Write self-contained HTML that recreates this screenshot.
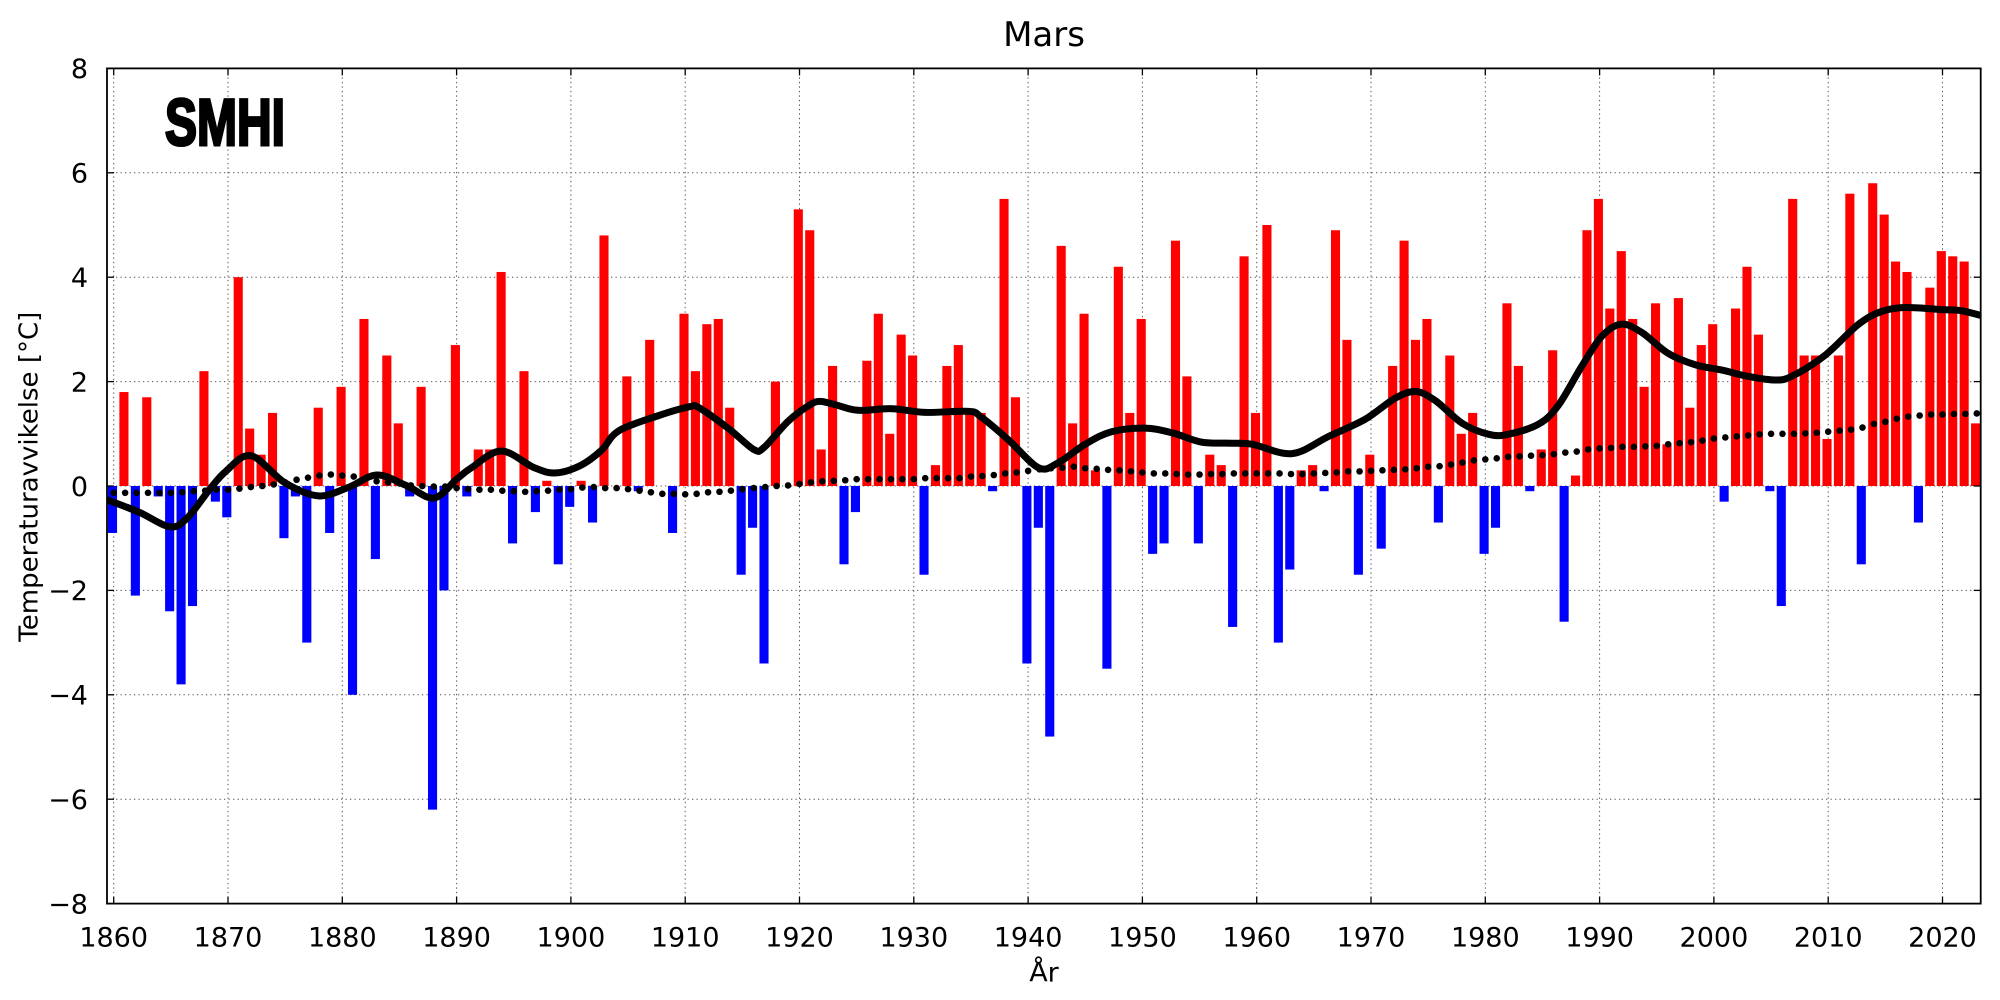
<!DOCTYPE html>
<html><head><meta charset="utf-8"><style>
html,body{margin:0;padding:0;background:#fff;}
svg{display:block;}
text{font-family:"DejaVu Sans","Liberation Sans",sans-serif;fill:#000;}
</style></head><body>
<svg id="s" xmlns="http://www.w3.org/2000/svg" width="2000" height="1000" viewBox="0 0 2000 1000">
<rect width="2000" height="1000" fill="#fff"/>
<defs><clipPath id="cp"><rect x="107" y="68.4" width="1873.7" height="835.2"/></clipPath></defs>
<g id="grid"></g>
<g id="bars" clip-path="url(#cp)"></g>
<g id="lines" clip-path="url(#cp)"></g>
<g id="ticks"></g>
<rect x="107" y="68.4" width="1873.7" height="835.2" fill="none" stroke="#000" stroke-width="1.8"/>
<text x="165" y="145" font-family="Liberation Sans" font-weight="bold" font-size="66" textLength="120" lengthAdjust="spacingAndGlyphs" stroke="#000" stroke-width="3" style="font-family:'Liberation Sans',sans-serif">SMHI</text>
<text x="1044" y="46" font-size="34" text-anchor="middle">Mars</text>
<g font-size="27" text-anchor="end">
<text x="88" y="78.2">8</text>
<text x="88" y="182.6">6</text>
<text x="88" y="287">4</text>
<text x="88" y="391.4">2</text>
<text x="88" y="495.8">0</text>
<text x="88" y="600.2">−2</text>
<text x="88" y="704.6">−4</text>
<text x="88" y="809">−6</text>
<text x="88" y="913.4">−8</text>
</g>
<g font-size="27" text-anchor="middle">
<text x="113.7" y="946.5">1860</text>
<text x="228" y="946.5">1870</text>
<text x="342.3" y="946.5">1880</text>
<text x="456.6" y="946.5">1890</text>
<text x="570.9" y="946.5">1900</text>
<text x="685.2" y="946.5">1910</text>
<text x="799.5" y="946.5">1920</text>
<text x="913.8" y="946.5">1930</text>
<text x="1028.1" y="946.5">1940</text>
<text x="1142.4" y="946.5">1950</text>
<text x="1256.7" y="946.5">1960</text>
<text x="1371" y="946.5">1970</text>
<text x="1485.3" y="946.5">1980</text>
<text x="1599.6" y="946.5">1990</text>
<text x="1713.9" y="946.5">2000</text>
<text x="1828.2" y="946.5">2010</text>
<text x="1942.5" y="946.5">2020</text>
</g>
<text x="1044" y="981.5" font-size="27" text-anchor="middle">År</text>
<text transform="translate(37.5,476.7) rotate(-90)" font-size="26" text-anchor="middle" textLength="330" lengthAdjust="spacingAndGlyphs">Temperaturavvikelse [°C]</text>
</svg>
<script>
(function(){
var NS="http://www.w3.org/2000/svg";
function X(y){return 113.7+(y-1860)*11.43;}
function Y(v){return 486-v*52.2;}
function el(tag,attrs,parent){var e=document.createElementNS(NS,tag);for(var k in attrs)e.setAttribute(k,attrs[k]);parent.appendChild(e);return e;}
var grid=document.getElementById('grid'),bars=document.getElementById('bars'),lines=document.getElementById('lines'),ticks=document.getElementById('ticks');
var L=107,R=1980.7,T=68.4,B=903.6;
for(var yr=1860;yr<=2020;yr+=10){var x=X(yr);
 el('line',{x1:x,y1:T,x2:x,y2:B,stroke:'#555','stroke-width':1,'stroke-dasharray':'1.3 3.2'},grid);
 el('line',{x1:x,y1:B,x2:x,y2:B-7,stroke:'#000','stroke-width':1.3},ticks);
 el('line',{x1:x,y1:T,x2:x,y2:T+7,stroke:'#000','stroke-width':1.3},ticks);
}
for(var v=-6;v<=6;v+=2){var y=Y(v);
 el('line',{x1:L,y1:y,x2:R,y2:y,stroke:'#555','stroke-width':1,'stroke-dasharray':'1.3 3.2'},grid);
 el('line',{x1:L,y1:y,x2:L+7,y2:y,stroke:'#000','stroke-width':1.3},ticks);
 el('line',{x1:R,y1:y,x2:R-7,y2:y,stroke:'#000','stroke-width':1.3},ticks);
}
var vals=[-0.9,1.8,-2.1,1.7,-0.2,-2.4,-3.8,-2.3,2.2,-0.3,
-0.6,4.0,1.1,0.6,1.4,-1.0,-0.2,-3.0,1.5,-0.9,
1.9,-4.0,3.2,-1.4,2.5,1.2,-0.2,1.9,-6.2,-2.0,
2.7,-0.2,0.7,0.7,4.1,-1.1,2.2,-0.5,0.1,-1.5,
-0.4,0.1,-0.7,4.8,0,2.1,-0.1,2.8,0,-0.9,
3.3,2.2,3.1,3.2,1.5,-1.7,-0.8,-3.4,2.0,0,
5.3,4.9,0.7,2.3,-1.5,-0.5,2.4,3.3,1.0,2.9,
2.5,-1.7,0.4,2.3,2.7,1.4,1.4,-0.1,5.5,1.7,
-3.4,-0.8,-4.8,4.6,1.2,3.3,0.3,-3.5,4.2,1.4,
3.2,-1.3,-1.1,4.7,2.1,-1.1,0.6,0.4,-2.7,4.4,
1.4,5.0,-3.0,-1.6,0.3,0.4,-0.1,4.9,2.8,-1.7,
0.6,-1.2,2.3,4.7,2.8,3.2,-0.7,2.5,1.0,1.4,
-1.3,-0.8,3.5,2.3,-0.1,0.7,2.6,-2.6,0.2,4.9,
5.5,3.4,4.5,3.2,1.9,3.5,0.8,3.6,1.5,2.7,
3.1,-0.3,3.4,4.2,2.9,-0.1,-2.3,5.5,2.5,2.5,
0.9,2.5,5.6,-1.5,5.8,5.2,4.3,4.1,-0.7,3.8,
4.5,4.4,4.3,1.2];
var bw=9.1;
for(var i=0;i<vals.length;i++){var v=vals[i];if(v===0)continue;var cx=X(1860+i)-1.2;
 var y0=Y(0),y1=Y(v);
 el('rect',{x:cx-bw/2,y:Math.min(y0,y1),width:bw,height:Math.abs(y1-y0),fill:v>0?'#ff0000':'#0000ff'},bars);
}
var tr=[-0.13,-0.13,-0.13,-0.13,-0.13,-0.13,-0.12,-0.10,-0.09,-0.07,
-0.07,-0.05,-0.02,0.0,0.03,0.07,0.12,0.16,0.20,0.22,
0.20,0.18,0.14,0.09,0.07,0.05,0.01,0.0,-0.01,-0.01,
-0.04,-0.06,-0.07,-0.07,-0.09,-0.10,-0.11,-0.10,-0.09,-0.07,
-0.06,-0.03,-0.02,-0.04,-0.04,-0.06,-0.09,-0.12,-0.15,-0.15,
-0.16,-0.15,-0.12,-0.11,-0.09,-0.06,-0.04,-0.02,0.0,0.01,
0.04,0.07,0.09,0.10,0.11,0.13,0.13,0.13,0.13,0.13,
0.13,0.15,0.15,0.15,0.15,0.18,0.19,0.21,0.24,0.26,
0.29,0.32,0.34,0.35,0.37,0.34,0.33,0.31,0.30,0.28,
0.26,0.24,0.24,0.23,0.22,0.22,0.23,0.23,0.24,0.24,
0.24,0.24,0.24,0.23,0.23,0.24,0.25,0.26,0.28,0.28,
0.29,0.30,0.31,0.32,0.34,0.37,0.38,0.41,0.45,0.49,
0.51,0.53,0.56,0.57,0.58,0.59,0.61,0.64,0.66,0.70,
0.72,0.73,0.75,0.75,0.76,0.77,0.80,0.82,0.84,0.87,
0.91,0.93,0.95,0.97,0.99,1.00,1.00,1.00,1.01,1.02,
1.04,1.06,1.08,1.12,1.19,1.23,1.29,1.33,1.35,1.37,
1.37,1.38,1.38,1.39];
var pts=[[1859.4,-0.26],[1862.2,-0.5],[1864.9,-0.78],[1866.4,-0.62],[1868.3,-0.09],[1869.8,0.28],[1872,0.58],[1875,0.06],[1877.9,-0.19],[1880.5,-0.03],[1883,0.21],[1885.5,0.02],[1888,-0.23],[1890,0.13],[1891.3,0.35],[1893.9,0.67],[1896.8,0.35],[1898.7,0.25],[1900.9,0.40],[1902.7,0.69],[1904.2,1.06],[1907.7,1.35],[1910.4,1.52],[1911.2,1.50],[1913.8,1.10],[1916,0.70],[1916.9,0.74],[1919,1.24],[1920.8,1.54],[1921.8,1.62],[1923.4,1.54],[1925.1,1.45],[1928.1,1.48],[1931,1.41],[1934.8,1.43],[1935.9,1.32],[1938.3,0.88],[1940.9,0.35],[1942.6,0.44],[1945,0.80],[1947.3,1.04],[1950.2,1.11],[1952.6,1.02],[1955.2,0.84],[1957.8,0.82],[1959.6,0.80],[1963.1,0.62],[1966.3,0.95],[1969.5,1.28],[1972.1,1.68],[1973.9,1.81],[1975.6,1.64],[1978,1.20],[1980.3,0.99],[1982,0.99],[1984.7,1.19],[1986.4,1.55],[1988.4,2.28],[1990.2,2.87],[1991.9,3.10],[1993.7,2.94],[1996,2.54],[1998.4,2.32],[2000.7,2.22],[2003,2.10],[2005.3,2.03],[2006.8,2.10],[2009.7,2.50],[2012.6,3.09],[2014.6,3.34],[2016.7,3.42],[2019.9,3.38],[2021.6,3.36],[2023.3,3.27]];
var P=pts.map(function(p){return [X(p[0]),Y(p[1])];});
var d='M'+P[0][0].toFixed(1)+' '+P[0][1].toFixed(1);
for(var i=0;i<P.length-1;i++){
 var p0=P[i>0?i-1:i],p1=P[i],p2=P[i+1],p3=P[i+2<P.length?i+2:i+1];
 var c1x=p1[0]+(p2[0]-p0[0])/6,c1y=p1[1]+(p2[1]-p0[1])/6;
 var c2x=p2[0]-(p3[0]-p1[0])/6,c2y=p2[1]-(p3[1]-p1[1])/6;
 d+=' C'+c1x.toFixed(1)+' '+c1y.toFixed(1)+' '+c2x.toFixed(1)+' '+c2y.toFixed(1)+' '+p2[0].toFixed(1)+' '+p2[1].toFixed(1);
}
el('path',{d:d,fill:'none',stroke:'#000','stroke-width':7,'stroke-linejoin':'round','stroke-linecap':'round'},lines);
for(var i=0;i<tr.length;i++){el('circle',{cx:X(1860+i),cy:Y(tr[i]),r:3.3,fill:'#000'},lines);}
})();
</script>
</body></html>
